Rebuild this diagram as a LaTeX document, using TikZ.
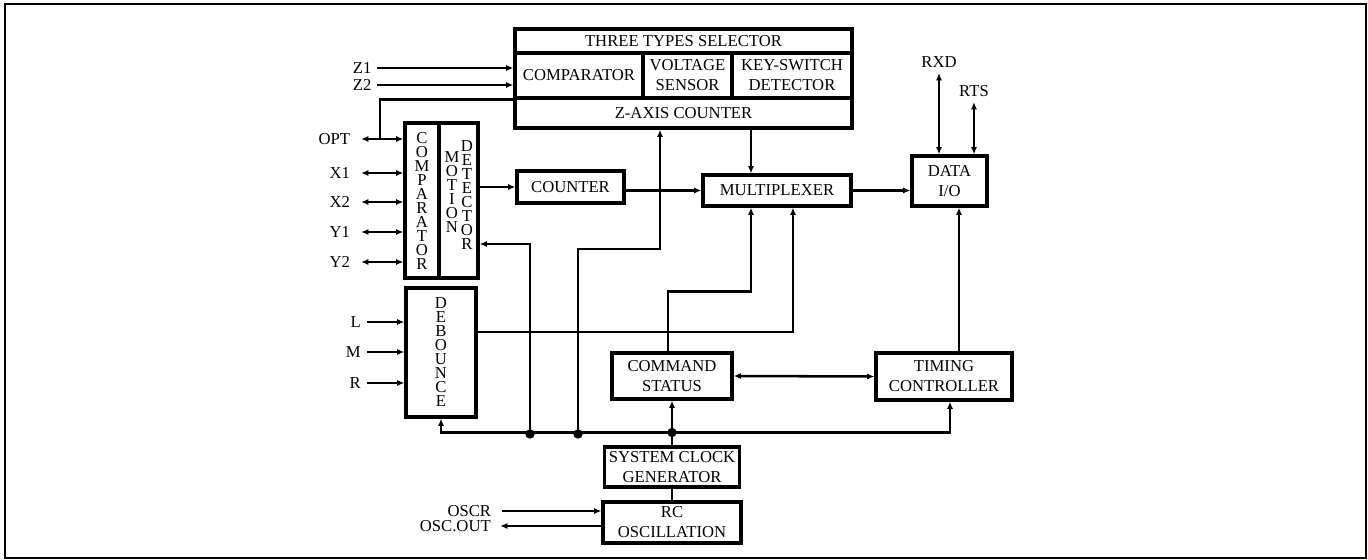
\documentclass[tikz,border=0pt]{standalone}
\usepackage{fontspec}
\setmainfont{Liberation Serif}
\usetikzlibrary{arrows.meta,calc,positioning}

\begin{document}
\begin{tikzpicture}[x=0.75pt, y=-0.75pt,
        block/.style={rectangle, draw=black, line width=2.3pt, align=center, inner sep=1pt, font=\fontsize{12.5}{15}\selectfont},
        vblock/.style={block, font=\fontsize{12.5}{10.5}\selectfont},
        vtext/.style={align=center, inner sep=0pt, font=\fontsize{12.5}{10.5}\selectfont},
        pin/.style={inner sep=0pt, font=\fontsize{12.5}{15}\selectfont},
        wire/.style={line width=1.9pt},
        arrow/.style={wire, -{Latex[length=5.5pt,width=4.5pt]}},
        biarrow/.style={wire, {Latex[length=5.5pt,width=4.5pt]}-{Latex[length=5.5pt,width=4.5pt]}},
        junction/.style={circle, fill=black, inner sep=0pt, minimum size=7pt}
    ]

    % Frame
    \useasboundingbox (0,0) rectangle (1368,560);
    \draw[line width=2.2pt] (5,4) rectangle (1366,558);

    % Three types selector and Z-axis counter
    \node[block, minimum width=252.75pt, minimum height=18pt] (sel) at (683.5,41) {THREE TYPES SELECTOR};
    \node[block, minimum width=96pt, minimum height=33.75pt] (cmp) at (579,75.5) {COMPARATOR};
    \node[block, minimum width=66.75pt, minimum height=33.75pt] (vs) at (687.5,75.5) {VOLTAGE\\SENSOR};
    \node[block, minimum width=90pt, minimum height=33.75pt] (ksd) at (792,75.5) {KEY-SWITCH\\DETECTOR};
    \node[block, minimum width=252.75pt, minimum height=22.5pt] (zac) at (683.5,113) {Z-AXIS COUNTER};

    % Comparator / motion detector
    \node[vblock, minimum width=25.5pt, minimum height=116.25pt] (cmpb) at (422,200.5) {C\\O\\M\\P\\A\\R\\A\\T\\O\\R};
    \node[block, minimum width=29.25pt, minimum height=116.25pt] (mot) at (458.5,200.5) {};
    \node[vtext] (motA) at ($(mot.center)+(-6.5,-8.5)$) {M\\O\\T\\I\\O\\N};
    \node[vtext] (motB) at ($(mot.center)+(8.5,-5.5)$) {D\\E\\T\\E\\C\\T\\O\\R};
    \node[vblock, minimum width=52.5pt, minimum height=96.75pt] (deb) at (441,352.5) {D\\E\\B\\O\\U\\N\\C\\E};

    % Main blocks
    \node[block, minimum width=80.25pt, minimum height=24pt] (cnt) at (570.5,187) {COUNTER};
    \node[block, minimum width=111pt, minimum height=23.25pt] (mux) at (777,190.5) {MULTIPLEXER};
    \node[block, minimum width=56.25pt, minimum height=37.5pt] (data) at (949.5,181) {DATA\\I/O};
    \node[block, minimum width=90pt, minimum height=34.5pt] (cmd) at (672,376) {COMMAND\\STATUS};
    \node[block, minimum width=102pt, minimum height=35.25pt] (tim) at (944,376.5) {TIMING\\CONTROLLER};
    \node[block, minimum width=101.25pt, minimum height=30pt] (scg) at (672,467) {SYSTEM CLOCK\\GENERATOR};
    \node[block, minimum width=103.5pt, minimum height=30.75pt] (rc) at (672,522.5) {RC\\OSCILLATION};

    % Pins on the left
    \foreach \lbl/\y in {OPT/139, X1/173, X2/202, Y1/232, Y2/262} {
        \coordinate (p\lbl) at (361,\y);
        \node[pin, left=8pt of p\lbl] (l\lbl) {\lbl};
        \draw[biarrow] (p\lbl) -- (p\lbl -| cmpb.west);
    }
    \foreach \lbl/\y in {Z1/68, Z2/85} {
        \coordinate (p\lbl) at (377,\y);
        \node[pin, left=4pt of p\lbl] (l\lbl) {\lbl};
        \draw[arrow] (p\lbl) -- (p\lbl -| cmp.west);
    }
    \foreach \lbl/\y in {L/322, M/352, R/383} {
        \coordinate (p\lbl) at (367,\y);
        \node[pin, left=4.5pt of p\lbl] (l\lbl) {\lbl};
        \draw[arrow] (p\lbl) -- (p\lbl -| deb.west);
    }
    \coordinate (optj) at (380,139);
    \draw[wire] (optj) |- (cmp.south west);

    % Oscillator pins
    \coordinate (poscr) at (502,511);
    \coordinate (poscout) at (500,526);
    \node[pin, left=8pt of poscr] (loscr) {OSCR};
    \node[pin, left=6.75pt of poscout] (loscout) {OSC.OUT};
    \draw[arrow] (poscr) -- (poscr -| rc.west);
    \draw[arrow] (poscout -| rc.west) -- (poscout);

    % Serial pins
    \coordinate (prxd) at (939,73);
    \coordinate (prts) at (974,102);
    \node[pin, above=4pt of prxd] (lrxd) {RXD};
    \node[pin, above=3.5pt of prts] (lrts) {RTS};
    \draw[biarrow] (prxd) -- (prxd |- data.north);
    \draw[biarrow] (prts) -- (prts |- data.north);

    % Data path
    \coordinate (mxl) at ($(mux.south)+(-26,0)$);
    \coordinate (mxr) at ($(mux.south)+(16,0)$);
    \coordinate (zin) at ($(zac.south)+(-23.5,0)$);
    \coordinate (din) at ($(data.south)+(9.5,0)$);
    \coordinate (tin) at ($(tim.south)+(6,0)$);
    \coordinate (cout) at ($(cmd.north)+(-4,0)$);
    \coordinate (dout) at ($(deb.east)+(0,-20.5)$);
    \draw[arrow] (mot.east |- cnt.west) -- (cnt.west);
    \draw[arrow] (mux.west -| cnt.east) -- (mux.west);
    \draw[arrow] (mxl |- zac.south) -- (mxl |- mux.north);
    \draw[arrow] (mux.east) -- (mux.east -| data.west);
    \draw[arrow] (din |- tim.north) -- (din);
    \draw[biarrow] (cmd.east) -- (tim.west);
    \draw[arrow] (cout) -- ++(0,-60) -| (mxl);
    \draw[arrow] (dout) -| (mxr);

    % Clock bus
    \coordinate (bus) at ($(scg.north)+(0,-13)$);
    \node[junction] (j1) at (530,434) {};
    \node[junction] (j2) at (578,434) {};
    \node[junction] (j3) at (bus) {};
    \draw[arrow] (scg.north) -- (cmd.south);
    \draw[arrow] (bus) -| (tin);
    \draw[arrow] (bus) -| (deb.south);
    \draw[arrow] (j1.center) |- ($(mot.east)+(0,43.5)$);
    \draw[arrow] (j2.center) -- ++(0,-185) -| (zin);
    \draw[wire] (scg.south) -- (rc.north);

\end{tikzpicture}
\end{document}
